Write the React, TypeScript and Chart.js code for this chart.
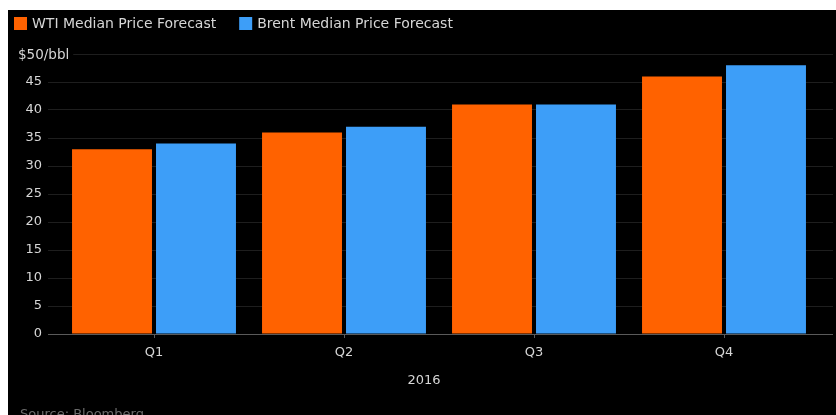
import { useEffect, useRef } from 'react';
import { Chart, registerables } from 'chart.js';

Chart.register(...registerables);

const categories = ['Q1', 'Q2', 'Q3', 'Q4'];
const wtiForecast = [33, 36, 41, 46];
const brentForecast = [34, 37, 41, 48];
const seriesLabels = ['WTI Median Price Forecast', 'Brent Median Price Forecast'];
const seriesColors = ['#ff6200', '#3d9ef8'];
const yMin = 0;
const yMax = 50;
const yStep = 5;
const unitLabel = '$50/bbl';
const yearLabel = '2016';
const sourceNote = 'Source: Bloomberg';

const FONT = '"DejaVu Sans", "Noto Sans", sans-serif';
const TEXT = '#d6d6d6';
const GRID = '#1e1e1e';
const AXIS = '#5a5a5a';

const overlayPlugin = {
  id: 'bbOverlay',
  afterDraw(chart: any) {
    const { ctx, chartArea, scales } = chart;
    ctx.save();
    // legend (from datasets)
    ctx.font = `14px ${FONT}`;
    ctx.textBaseline = 'middle';
    ctx.textAlign = 'left';
    let x = 6;
    const top = 7;
    const box = 13;
    chart.data.datasets.forEach((ds: any) => {
      ctx.fillStyle = ds.backgroundColor;
      ctx.fillRect(x, top, box, box);
      x += box + 5;
      ctx.fillStyle = TEXT;
      ctx.fillText(ds.label, x, top + box / 2 + 0.5);
      x += ctx.measureText(ds.label).width + 23;
    });
    // unit label on top tick
    const yTop = scales.y.getPixelForValue(yMax);
    ctx.font = `13.5px ${FONT}`;
    const w = ctx.measureText(unitLabel).width;
    ctx.fillStyle = '#000';
    ctx.fillRect(8, yTop - 8, w + 6, 16);
    ctx.fillStyle = TEXT;
    ctx.fillText(unitLabel, 10, yTop + 1);
    // year label
    ctx.font = `13px ${FONT}`;
    ctx.textAlign = 'center';
    ctx.fillText(yearLabel, (chartArea.left + chartArea.right) / 2 - 15, chartArea.bottom + 47);
    // source
    ctx.textAlign = 'left';
    ctx.fillStyle = '#6a6a6a';
    ctx.fillText(sourceNote, 12, chartArea.bottom + 81);
    ctx.restore();
  },
};

const gridColor = (c: any) => (c.tick && c.tick.value === 0 ? AXIS : GRID);

export default function App() {
  const ref = useRef<HTMLCanvasElement>(null);

  useEffect(() => {
    if (!ref.current) return;
    const chart = new Chart(ref.current, {
      type: 'bar',
      data: {
        labels: categories,
        datasets: [
          {
            label: seriesLabels[0],
            data: wtiForecast,
            backgroundColor: seriesColors[0],
            categoryPercentage: 0.884,
            barPercentage: 0.952,
          },
          {
            label: seriesLabels[1],
            data: brentForecast,
            backgroundColor: seriesColors[1],
            categoryPercentage: 0.884,
            barPercentage: 0.952,
          },
        ],
      },
      options: {
        animation: false,
        responsive: true,
        maintainAspectRatio: false,
        layout: { padding: { top: 44, left: 0, right: 3, bottom: 0 } },
        plugins: {
          legend: { display: false },
          tooltip: { enabled: false },
        },
        scales: {
          x: {
            grid: {
              display: true,
              drawOnChartArea: false,
              drawTicks: true,
              tickLength: 4,
              offset: false,
              color: AXIS,
            },
            border: { display: false },
            ticks: { color: TEXT, font: { family: FONT, size: 13 }, padding: 7 },
            afterFit: (s: any) => {
              s.height = 81;
            },
          },
          y: {
            min: yMin,
            max: yMax,
            ticks: {
              stepSize: yStep,
              color: TEXT,
              font: { family: FONT, size: 13 },
              padding: 6,
              callback: (v: any) => (Number(v) === yMax ? '' : String(v)),
            },
            grid: { color: gridColor, tickLength: 11, drawTicks: true, lineWidth: 1 },
            border: { display: false },
            afterFit: (s: any) => {
              s.width = 51;
            },
          },
          y2: {
            position: 'right',
            min: yMin,
            max: yMax,
            ticks: { stepSize: yStep, display: false },
            grid: { color: gridColor, drawOnChartArea: false, drawTicks: true, tickLength: 14 },
            border: { display: false },
            afterFit: (s: any) => {
              s.width = 14;
            },
          },
        },
      } as any,
      plugins: [overlayPlugin],
    });
    return () => chart.destroy();
  }, []);

  return (
    <div
      style={{
        position: 'fixed',
        left: 8,
        top: 10,
        width: 828,
        height: 405,
        background: '#000',
      }}
    >
      <canvas ref={ref} />
    </div>
  );
}
